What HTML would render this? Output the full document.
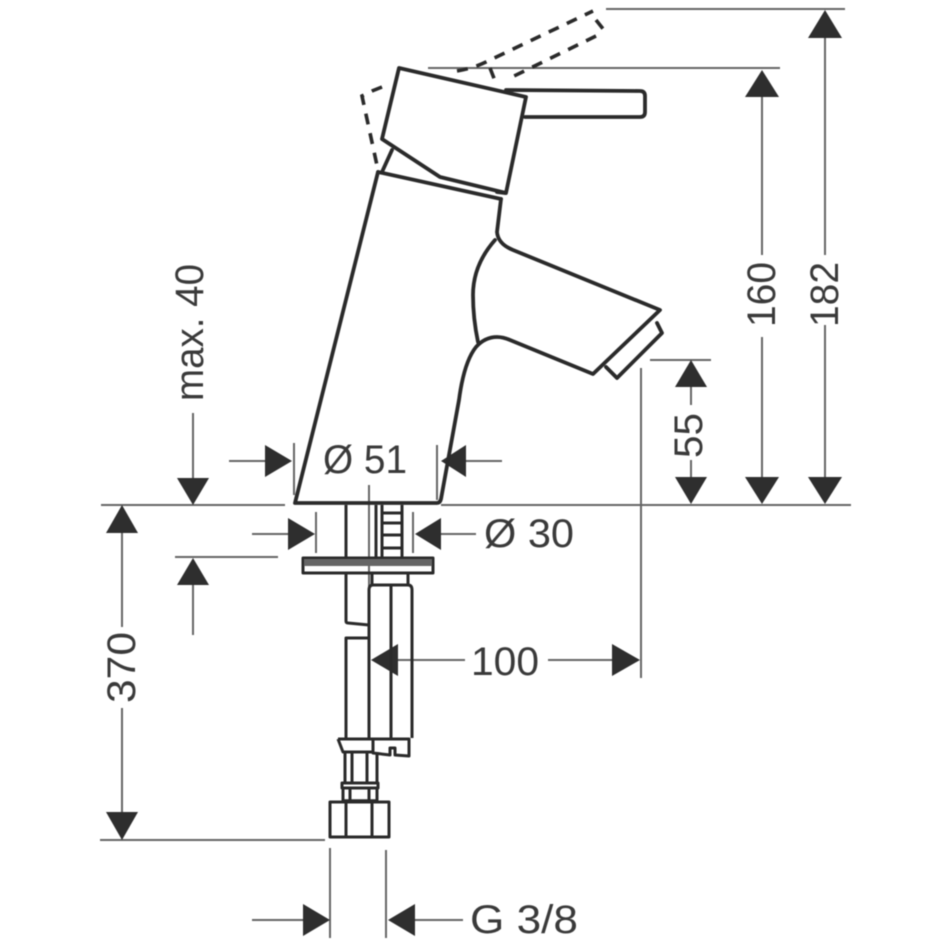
<!DOCTYPE html>
<html>
<head>
<meta charset="utf-8">
<style>
html,body{margin:0;padding:0;background:#fff;}
svg{display:block;filter:blur(0.6px);}
text{font-family:"Liberation Sans",sans-serif;font-size:40px;fill:#3a3a3a;}
.b{fill:none;stroke:#2a2a2a;stroke-width:3.8;stroke-linejoin:round;stroke-linecap:round;}
.m{fill:none;stroke:#2a2a2a;stroke-width:3;stroke-linejoin:round;}
.d{fill:none;stroke:#666;stroke-width:2;}
.a{fill:#2e2e2e;stroke:none;}
</style>
</head>
<body>
<svg width="950" height="950" viewBox="0 0 950 950" xmlns="http://www.w3.org/2000/svg">
<rect width="950" height="950" fill="#fff"/>

<!-- dimension lines -->
<g class="d">
<path d="M606 9H845M428 68H780"/>
<path d="M101 505H285M441 505H851"/>
<path d="M100 840H325"/>
<path d="M650 360H711M641 368V678"/>
<path d="M825 38V255M825 325V477"/>
<path d="M762 96V255M762 337V477"/>
<path d="M691 387V405M691 460V477"/>
<path d="M122 533V627M122 708V812"/>
<path d="M193 413V478"/>
<path d="M193 585V635M175 557H278"/>
<path d="M229 461H265M294 443V495M466 461H502M437 445V500"/>
<path d="M252 534H288M316 512V553M441 534H476M413 512V553"/>
<path d="M398 660H465M548 660H612"/>
<path d="M252 920H303M330 848V938M415 920H463M386 850V938"/>
<path d="M369 485V600"/>
</g>

<!-- arrowheads -->
<g class="a">
<path d="M825 10L808 38H842Z"/>
<path d="M825 504L808 477H842Z"/>
<path d="M762 70L745 97H779Z"/>
<path d="M762 504L745 477H779Z"/>
<path d="M691 360L675 387H707Z"/>
<path d="M691 504L675 477H707Z"/>
<path d="M193 505L177 478H209Z"/>
<path d="M122 505L106 533H138Z"/>
<path d="M122 840L106 812H138Z"/>
<path d="M193 558L177 585H209Z"/>
<path d="M292 461L265 445V477Z"/>
<path d="M441 461L466 445V477Z"/>
<path d="M315 534L288 518V550Z"/>
<path d="M415 534L441 518V550Z"/>
<path d="M371 660L398 644V676Z"/>
<path d="M640 660L612 644V676Z"/>
<path d="M330 920L303 904V936Z"/>
<path d="M388 920L415 904V936Z"/>
</g>

<!-- dashed raised lever -->
<g fill="none" stroke="#2a2a2a" stroke-width="3.6" stroke-dasharray="11 9">
<path d="M382 87L372 91L362 96L378 170"/>
<path d="M457 71Q475 68 490 60L593 11"/>
<path d="M596 20L604 30"/>
<path d="M596 36L510 78"/>
<path d="M490 68L497 86"/>
</g>

<!-- lever -->
<path class="b" style="fill:#fff" d="M399 68L526 97L506 193L440 177L382 139Z"/>
<path class="b" d="M506 90L640 91Q645 91 645 96V112Q645 117 640 117H525"/>

<!-- body -->
<path class="b" d="M392 150L382 172M378 172L501 199M497 192L505 193"/>
<path class="b" d="M378 172L295 503H437Q440 503 441 499L459 400Q464 362 476 347Q485 337 497 337Q503 337 510 340L593 374L660 310L513 250Q498 244 497 232L501 199"/>
<path class="b" d="M495 240Q473 265 473 295Q473 318 478 342"/>
<path class="b" d="M606 367L617 378L662 333L657 323"/>

<!-- lower assembly -->
<g class="m">
<path d="M346 505V558M376 505V558M382 505V558M402 505V558"/>
<path d="M382 513H402M382 523H402M382 535H402M382 548H402"/>
<rect x="303" y="558" width="130" height="15"/>
<rect x="304" y="559" width="128" height="7" fill="#666" stroke="none"/>
<path d="M346 573V621Q346 623 348 623L369 625"/>
<path d="M369 638H346V738"/>
<path d="M372 573V585M408 573V585"/>
<path d="M369 590Q369 585 373 585H408Q412 585 412 590V738"/>
<path d="M369 590V738M391 585V738"/>
<path d="M338 739H409V756L395 755V748H390V755L373 753V739"/>
<path d="M338 739L343 752H372"/>
<path d="M345 752V783M352 752V783M367 752V783M377 752V783"/>
<rect x="342" y="783" width="36" height="5"/>
<path d="M343 788V801M350 788V801M369 788V801M377 788V801"/>
<path d="M330 802H389V837H330Z"/>
<path d="M346 802V837M372 802V837"/>
<path d="M343 801H377" stroke-width="3.4"/>
</g>

<!-- labels -->
<text x="323" y="473" textLength="84" lengthAdjust="spacingAndGlyphs">Ø 51</text>
<text x="484" y="547" textLength="90" lengthAdjust="spacingAndGlyphs">Ø 30</text>
<text x="471" y="675" textLength="68" lengthAdjust="spacingAndGlyphs">100</text>
<text x="470" y="933" textLength="108" lengthAdjust="spacingAndGlyphs">G 3/8</text>
<text transform="translate(203,401) rotate(-90)" textLength="137" lengthAdjust="spacingAndGlyphs">max. 40</text>
<text transform="translate(135,703) rotate(-90)" textLength="71" lengthAdjust="spacingAndGlyphs">370</text>
<text transform="translate(702,458) rotate(-90)" textLength="45" lengthAdjust="spacingAndGlyphs">55</text>
<text transform="translate(775,327) rotate(-90)" textLength="65" lengthAdjust="spacingAndGlyphs">160</text>
<text transform="translate(838,327) rotate(-90)" textLength="65" lengthAdjust="spacingAndGlyphs">182</text>
</svg>
</body>
</html>
